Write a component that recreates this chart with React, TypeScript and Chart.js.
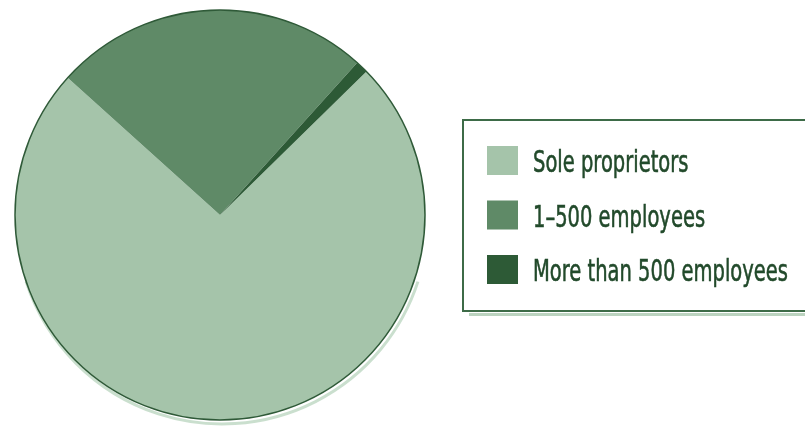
import React, { useEffect, useRef } from "react";
import { Chart, registerables } from "chart.js";

Chart.register(...registerables);

const categories = ["Sole proprietors", "1\u2013500 employees", "More than 500 employees"];
const shares = [74, 25, 1];
const sliceColors = ["#a5c4aa", "#5f8a67", "#2d5a36"];

const outlinePlugin = {
  id: "outline",
  afterDatasetsDraw(chart: any) {
    const meta = chart.getDatasetMeta(0);
    const arc = meta.data[0];
    if (!arc) return;
    const { x, y, outerRadius } = arc.getProps(["x", "y", "outerRadius"], true);
    const ctx = chart.ctx;
    ctx.save();
    ctx.beginPath();
    ctx.arc(x + 2, y + 3, outerRadius + 1, 0.1 * Math.PI, 0.9 * Math.PI);
    ctx.strokeStyle = "rgba(180,210,185,0.7)";
    ctx.lineWidth = 3;
    ctx.stroke();
    ctx.beginPath();
    ctx.arc(x, y, outerRadius, 0, Math.PI * 2);
    ctx.strokeStyle = "#2f5a38";
    ctx.lineWidth = 1.5;
    ctx.stroke();
    ctx.restore();
  },
};

const legendPlugin = {
  id: "boxLegend",
  afterDraw(chart: any) {
    const ctx = chart.ctx;
    const labels: string[] = chart.data.labels;
    const colors: string[] = chart.data.datasets[0].backgroundColor;
    const boxLeft = 463;
    const boxTop = 120;
    const boxBottom = 311;
    ctx.save();
    ctx.fillStyle = "rgba(170,200,175,0.8)";
    ctx.fillRect(boxLeft + 6, boxBottom + 2, 400, 3);
    ctx.strokeStyle = "#3d6b47";
    ctx.lineWidth = 2;
    ctx.strokeRect(boxLeft, boxTop, 400, boxBottom - boxTop);
    ctx.font = "31px 'Liberation Sans Narrow', 'DejaVu Sans Condensed', Roboto, sans-serif";
    ctx.textBaseline = "alphabetic";
    let maxW = 0;
    labels.forEach((l) => (maxW = Math.max(maxW, ctx.measureText(l).width)));
    const sx = 255 / maxW;
    labels.forEach((l, i) => {
      const top = 146 + i * 54.5;
      ctx.fillStyle = colors[i];
      ctx.fillRect(487, top, 31, 29);
      ctx.save();
      ctx.translate(533, top + 26);
      ctx.scale(sx, 1);
      ctx.fillStyle = "#224a2b";
      ctx.strokeStyle = "#224a2b";
      ctx.lineWidth = 0.6;
      ctx.fillText(l, 0, 0);
      ctx.strokeText(l, 0, 0);
      ctx.restore();
    });
    ctx.restore();
  },
};

export default function App() {
  const ref = useRef<HTMLCanvasElement>(null);
  useEffect(() => {
    document.body.style.margin = "0";
    const chart = new Chart(ref.current!, {
      type: "pie",
      data: {
        labels: categories,
        datasets: [
          {
            data: shares,
            backgroundColor: sliceColors,
            borderWidth: 0,
          },
        ],
      },
      options: {
        animation: false,
        responsive: false,
        rotation: 45.6,
        layout: { padding: { left: 15, top: 10, right: 380, bottom: 8 } },
        plugins: { legend: { display: false }, tooltip: { enabled: false } },
      },
      plugins: [outlinePlugin, legendPlugin],
    });
    return () => chart.destroy();
  }, []);
  return <canvas ref={ref} width={805} height={428} style={{ display: "block" }} />;
}
